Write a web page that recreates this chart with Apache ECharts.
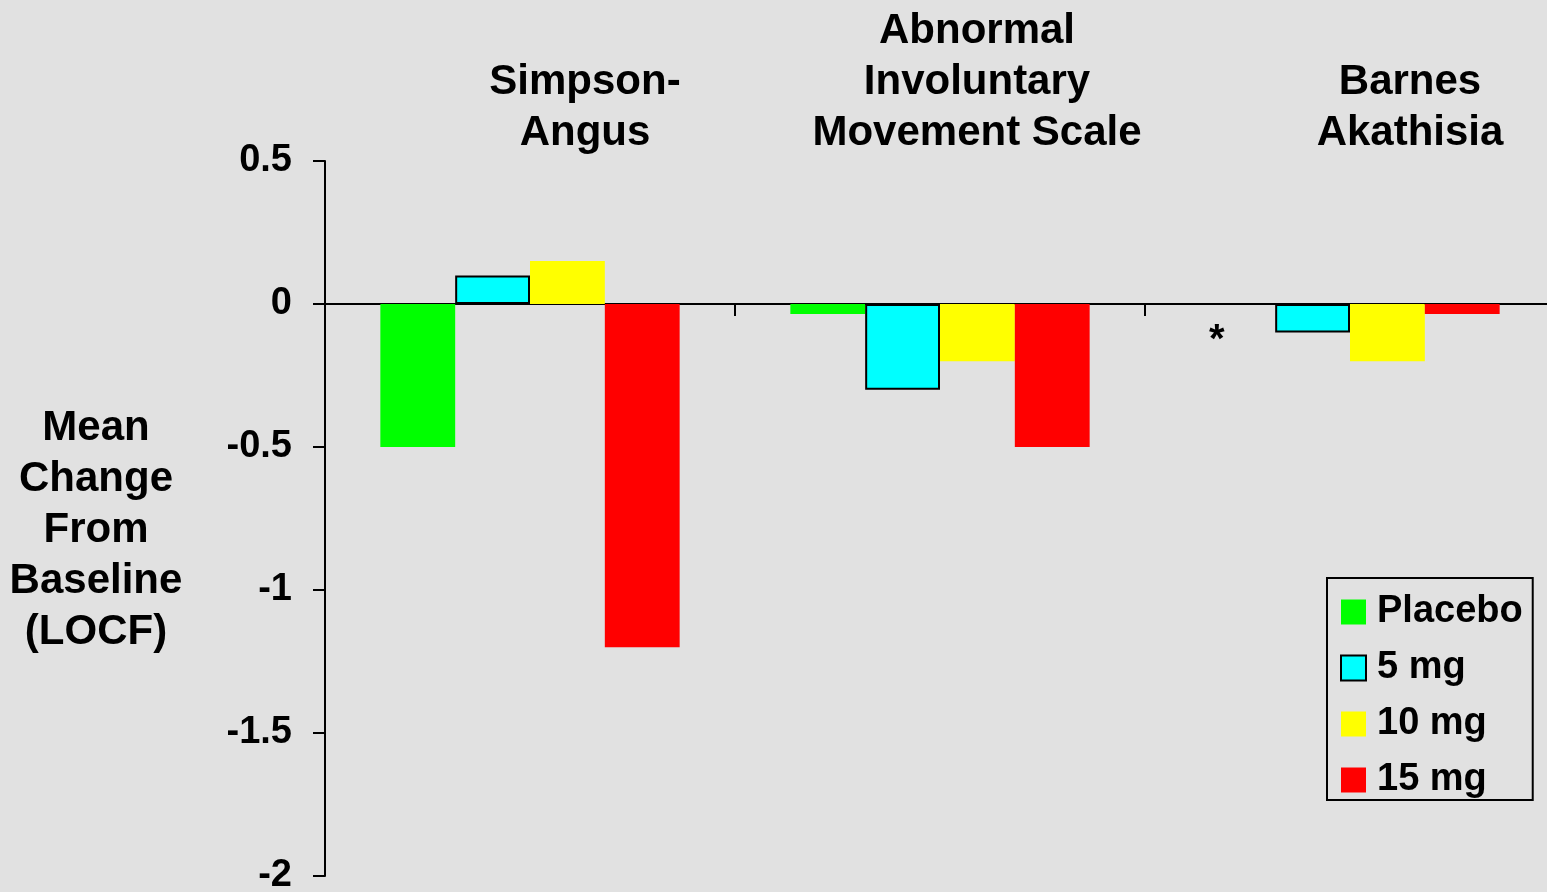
<!DOCTYPE html>
<html>
<head>
<meta charset="utf-8">
<script src="https://cdn.jsdelivr.net/npm/echarts@6/dist/echarts.min.js"></script>
<style>
  html, body { margin: 0; padding: 0; background: #e1e1e1; }
  #chart { width: 1547px; height: 892px; }
</style>
</head>
<body>
<div id="chart"></div>
<script>
// data
const categories = ['Simpson-Angus', 'AIMS', 'Barnes Akathisia'];
const topLabels = ['Simpson-\nAngus', 'Abnormal\nInvoluntary\nMovement Scale', 'Barnes\nAkathisia'];
const seriesNames = ['Placebo', '5 mg', '10 mg', '15 mg'];
const placebo = [-0.5, -0.035, null]; // Barnes placebo not shown (asterisk)
const mg5 = [0.1, -0.3, -0.1];
const mg10 = [0.15, -0.2, -0.2];
const mg15 = [-1.2, -0.5, -0.035];
const yTicks = { min: -2, max: 0.5, interval: 0.5 };

const colors = ['#00ff00', '#00ffff', '#ffff00', '#ff0000'];
const font = 'Arial, "Liberation Sans", sans-serif';

const chart = echarts.init(document.getElementById('chart'));

// placebo for Barnes is missing -> put a zero bar that only carries the '*' label
const placeboData = placebo.map((v, i) => v === null ? {
  value: 0,
  label: {
    show: true, formatter: '*', position: 'bottom', distance: 17, offset: [-21, 0],
    fontSize: 40, fontWeight: 'bold', color: '#000', fontFamily: font
  }
} : v);

const allData = [placeboData, mg5, mg10, mg15];

const option = {
  backgroundColor: '#e1e1e1',
  animation: false,
  grid: { left: 325, top: 161, width: 1230, bottom: 16, outerBoundsMode: 'none', containLabel: false },
  legend: {
    orient: 'vertical',
    left: 1327, top: 578,
    data: seriesNames,
    icon: 'rect',
    itemWidth: 25, itemHeight: 25, itemGap: 18,
    borderColor: '#000', borderWidth: 2,
    padding: [15, 10, 1, 13],
    textStyle: { fontSize: 38, fontWeight: 'bold', color: '#000', fontFamily: font, lineHeight: 38, padding: [0, 0, 0, 6] }
  },
  xAxis: [
    {
      type: 'category',
      data: categories,
      axisLine: { onZero: true, lineStyle: { color: '#000', width: 2 } },
      axisTick: { show: true, length: 12, lineStyle: { color: '#000', width: 2 } },
      axisLabel: { show: false }
    },
    {
      type: 'category',
      position: 'top',
      data: [
        { value: topLabels[0], textStyle: { padding: [0, 0, 0, 110] } },
        { value: topLabels[1], textStyle: { padding: [0, 0, 0, 74] } },
        { value: topLabels[2], textStyle: { padding: [0, 0, 0, 120] } }
      ],
      axisLine: { show: false, onZero: false },
      axisTick: { show: false },
      axisLabel: {
        margin: 2, fontSize: 42, fontWeight: 'bold', color: '#000', fontFamily: font,
        lineHeight: 51, align: 'center', interval: 0
      }
    }
  ],
  yAxis: {
    type: 'value',
    min: yTicks.min, max: yTicks.max, interval: yTicks.interval,
    axisLine: { show: true, lineStyle: { color: '#000', width: 2 } },
    axisTick: { show: true, length: 12, lineStyle: { color: '#000', width: 2 } },
    splitLine: { show: false },
    axisLabel: { margin: 33, fontSize: 38, fontWeight: 'bold', color: '#000', fontFamily: font }
  },
  graphic: [{
    type: 'text',
    style: {
      text: 'Mean\nChange\nFrom\nBaseline\n(LOCF)',
      x: 96, y: 530,
      align: 'center', verticalAlign: 'middle',
      fontSize: 42, fontWeight: 'bold', fill: '#000', fontFamily: font, lineHeight: 51
    }
  }],
  series: seriesNames.map((name, i) => ({
    name: name,
    type: 'bar',
    xAxisIndex: 0,
    data: allData[i],
    barGap: '0%',
    barCategoryGap: '27%',
    itemStyle: i === 1
      ? { color: colors[i], borderColor: '#000', borderWidth: 2 }
      : { color: colors[i] }
  }))
};

chart.setOption(option);
</script>
</body>
</html>
